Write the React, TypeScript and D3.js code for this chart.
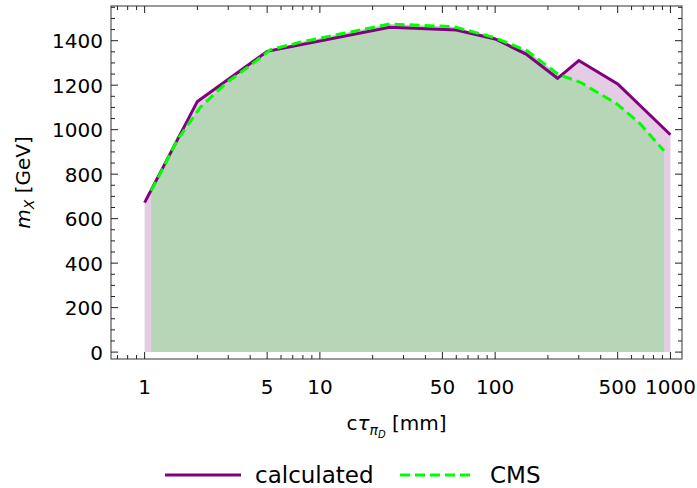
import React from 'react';
import * as d3 from 'd3';

// calculated limit (purple)
const calcX = [1, 2, 5, 25, 60, 100, 150, 227, 300, 500, 1000];
const calcY = [672, 1127, 1352, 1460, 1448, 1408, 1340, 1231, 1311, 1206, 977];
// CMS limit (green dashed)
const cmsX = [1.09, 1.2, 1.53, 2.08, 2.95, 4.0, 5.2, 7.7, 13, 25, 58, 98, 152, 230, 306, 495, 673, 920];
const cmsY = [725, 787, 951, 1101, 1213, 1288, 1359, 1393, 1430, 1475, 1463, 1415, 1355, 1248, 1213, 1116, 1026, 905];

const xTickLabels = [1, 5, 10, 50, 100, 500, 1000];
const yTickValues = [0, 200, 400, 600, 800, 1000, 1200, 1400];
const seriesNames = ['calculated', 'CMS'];

const W = 697;
const H = 488;
const L = 111, R = 682, T = 6, B = 359;
const FONT = 'DejaVu Sans, sans-serif';

export default function App() {
  const x = d3.scaleLog().domain([0.643, 1164]).range([L, R]);
  const y = d3.scaleLinear().domain([-31, 1556]).range([B, T]);

  const calc = calcX.map((v, i) => [v, calcY[i]] as [number, number]);
  const cms = cmsX.map((v, i) => [v, cmsY[i]] as [number, number]);

  const line = d3.line<[number, number]>().x(d => x(d[0])).y(d => y(d[1]));
  const area = d3.area<[number, number]>().x(d => x(d[0])).y0(y(0)).y1(d => y(d[1]));

  // minor x ticks
  const xMinor: number[] = [];
  for (let e = -1; e <= 3; e++) {
    for (let m = 1; m <= 9; m++) {
      const v = m * Math.pow(10, e);
      if (v >= 0.643 && v <= 1164 && !xTickLabels.includes(v)) xMinor.push(v);
    }
  }
  const yMinor: number[] = [];
  for (let v = 0; v <= 1550; v += 50) if (!yTickValues.includes(v)) yMinor.push(v);

  const tc = '#222';
  const majLen = 7, minLen = 4;

  return (
    <svg width={W} height={H} style={{ position: 'absolute', left: 0, top: 0, background: '#fff' }}>
      <path d={area(calc) || ''} fill="#e4cce4" />
      <path d={area(cms) || ''} fill="#b7d5b7" />
      <path d={line(calc) || ''} fill="none" stroke="#800080" strokeWidth={3} strokeLinejoin="miter" />
      <path d={line(cms) || ''} fill="none" stroke="#00ff00" strokeWidth={3} strokeDasharray="10,5" />

      {/* frame */}
      <rect x={L} y={T} width={R - L} height={B - T} fill="none" stroke="#555" strokeWidth={1.2} />

      {/* x ticks */}
      {xTickLabels.map(v => (
        <g key={'xt' + v}>
          <line x1={x(v)} x2={x(v)} y1={B} y2={B - majLen} stroke={tc} />
          <line x1={x(v)} x2={x(v)} y1={T} y2={T + majLen} stroke={tc} />
          <text x={x(v)} y={394} textAnchor="middle" fontFamily={FONT} fontSize={20}>{v}</text>
        </g>
      ))}
      {xMinor.map(v => (
        <g key={'xm' + v}>
          <line x1={x(v)} x2={x(v)} y1={B} y2={B - minLen} stroke={tc} />
          <line x1={x(v)} x2={x(v)} y1={T} y2={T + minLen} stroke={tc} />
        </g>
      ))}
      {/* y ticks */}
      {yTickValues.map(v => (
        <g key={'yt' + v}>
          <line x1={L} x2={L + majLen} y1={y(v)} y2={y(v)} stroke={tc} />
          <line x1={R} x2={R - majLen} y1={y(v)} y2={y(v)} stroke={tc} />
          <text x={103} y={y(v) + 7.5} textAnchor="end" fontFamily={FONT} fontSize={20}>{v}</text>
        </g>
      ))}
      {yMinor.map(v => (
        <g key={'ym' + v}>
          <line x1={L} x2={L + minLen} y1={y(v)} y2={y(v)} stroke={tc} />
          <line x1={R} x2={R - minLen} y1={y(v)} y2={y(v)} stroke={tc} />
        </g>
      ))}

      {/* axis labels */}
      <text x={(L + R) / 2} y={430} textAnchor="middle" fontFamily={FONT} fontSize={20}>
        <tspan>c</tspan>
        <tspan fontStyle="italic">τ</tspan>
        <tspan fontStyle="italic" fontSize={14} dy={5}>π</tspan>
        <tspan fontStyle="italic" fontSize={10} dy={3}>D</tspan>
        <tspan dy={-8}> [mm]</tspan>
      </text>
      <text transform={`translate(30, ${(T + B) / 2}) rotate(-90)`} textAnchor="middle" fontFamily={FONT} fontSize={20}>
        <tspan fontStyle="italic">m</tspan>
        <tspan fontStyle="italic" fontSize={14} dy={4}>X</tspan>
        <tspan dy={-4}> [GeV]</tspan>
      </text>

      {/* legend */}
      <line x1={165} x2={241} y1={475} y2={475} stroke="#800080" strokeWidth={3} />
      <text x={255} y={483} fontFamily={FONT} fontSize={23}>{seriesNames[0]}</text>
      <line x1={400} x2={472} y1={475} y2={475} stroke="#00ff00" strokeWidth={3} strokeDasharray="10,5" />
      <text x={490} y={483} fontFamily={FONT} fontSize={23}>{seriesNames[1]}</text>
    </svg>
  );
}
